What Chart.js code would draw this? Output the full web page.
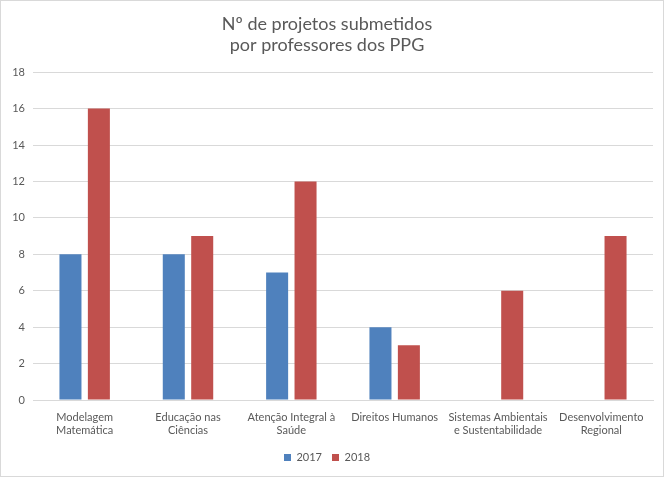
<!DOCTYPE html>
<html lang="pt">
<head>
    <meta charset="UTF-8">
    <title>Nº de projetos submetidos por professores dos PPG</title>
    <script src="https://cdn.jsdelivr.net/npm/chart.js"></script>
    <style>
        html, body { margin: 0; padding: 0; background: #fff; }
        #wrap { position: relative; width: 662px; height: 475px; border: 1px solid #d9d9d9; }
    </style>
</head>
<body>
    <div id="wrap"><canvas id="chart" width="662" height="475"></canvas></div>

    <script>
        // Programas (categorias do eixo x)
        const programas = [
            ["Modelagem", "Matemática"],
            ["Educação nas", "Ciências"],
            ["Atenção Integral à", "Saúde"],
            "Direitos Humanos",
            ["Sistemas Ambientais", "e Sustentabilidade"],
            ["Desenvolvimento", "Regional"]
        ];

        const projetos2017 = [8, 8, 7, 4, null, null];
        const projetos2018 = [16, 9, 12, 3, 6, 9];

        const yMax = 18;
        const yStep = 2;

        const cinza = '#595959';
        const fonte = "Lato, 'Open Sans', sans-serif";

        new Chart(document.getElementById('chart'), {
            type: 'bar',
            data: {
                labels: programas,
                datasets: [
                    { label: '2017', data: projetos2017, backgroundColor: '#4f81bd' },
                    { label: '2018', data: projetos2018, backgroundColor: '#c0504d' }
                ]
            },
            options: {
                responsive: false,
                animation: false,
                categoryPercentage: 0.55,
                barPercentage: 0.775,
                layout: { padding: { left: 0, right: 10, top: 0, bottom: 3 } },
                plugins: {
                    title: {
                        display: true,
                        text: ['Nº de projetos submetidos', 'por professores dos PPG'],
                        color: cinza,
                        font: { family: fonte, size: 18, weight: 'normal' },
                        padding: { top: 12, bottom: 16 },
                        lineHeight: 1.25
                    },
                    legend: {
                        position: 'bottom',
                        labels: {
                            color: cinza,
                            font: { family: fonte, size: 11 },
                            boxWidth: 7,
                            boxHeight: 7,
                            padding: 10
                        }
                    },
                    tooltip: { enabled: false }
                },
                scales: {
                    x: {
                        grid: { display: false },
                        border: { color: '#d9d9d9' },
                        ticks: {
                            color: cinza,
                            font: { family: fonte, size: 11 },
                            maxRotation: 0,
                            autoSkip: false
                        },
                        afterFit: (s) => { s.height = 42; }
                    },
                    y: {
                        min: 0,
                        max: yMax,
                        ticks: {
                            stepSize: yStep,
                            color: cinza,
                            font: { family: fonte, size: 11 },
                            padding: 8
                        },
                        grid: { color: '#d9d9d9', drawTicks: false },
                        border: { display: false },
                        afterFit: (s) => { s.width = 32; }
                    }
                }
            }
        });
    </script>
</body>
</html>
